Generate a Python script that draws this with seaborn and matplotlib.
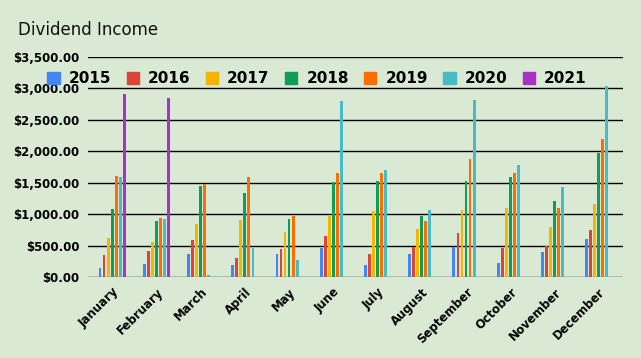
import pandas as pd
import seaborn as sns
import matplotlib.pyplot as plt
from matplotlib.ticker import FuncFormatter

# Monthly dividend income per year
months = ['January', 'February', 'March', 'April', 'May', 'June',
          'July', 'August', 'September', 'October', 'November', 'December']
years = ['2015', '2016', '2017', '2018', '2019', '2020', '2021']

y2015 = [145, 213, 372, 191, 372, 467, 197, 372, 483, 229, 404, 610]
y2016 = [356, 414, 595, 308, 451, 658, 372, 483, 706, 467, 499, 754]
y2017 = [627, 552, 838, 913, 722, 976, 1056, 770, 1072, 1104, 802, 1168]
y2018 = [1088, 897, 1454, 1342, 929, 1517, 1533, 971, 1533, 1597, 1215, 1973]
y2019 = [1613, 945, 1486, 1586, 966, 1660, 1660, 886, 1883, 1660, 1104, 2202]
y2020 = [1586, 929, 38, 467, 265, 2806, 1708, 1072, 2822, 1788, 1438, 3045]
y2021 = [2917, 2854, 0, 0, 0, 0, 0, 0, 0, 0, 0, 0]

colors = ['#4285f4', '#db4437', '#f4b400', '#0f9d58', '#ff6d01', '#46bdc6', '#ab30c4']

series = [y2015, y2016, y2017, y2018, y2019, y2020, y2021]
rows = []
for yr, vals in zip(years, series):
    for m, v in zip(months, vals):
        rows.append({'Month': m, 'Year': yr, 'Income': v})
df = pd.DataFrame(rows)

bg = '#d9e9d3'
fig = plt.figure(figsize=(6.41, 3.58), dpi=100, facecolor=bg)
ax = fig.add_axes([0.137, 0.226, 0.835, 0.615])
ax.set_facecolor(bg)

sns.barplot(data=df, x='Month', y='Income', hue='Year', hue_order=years,
            palette=colors, width=0.64, gap=0.3, ax=ax, saturation=1,
            edgecolor='none', legend=False)

# gridlines
ax.set_ylim(0, 3500)
ax.set_yticks(range(0, 3501, 500))
for yv in range(0, 3501, 500):
    ax.axhline(yv, color='black', lw=1.0, zorder=0)
ax.yaxis.set_major_formatter(FuncFormatter(lambda v, p: f'${v:,.2f}'))
for s in ax.spines.values():
    s.set_visible(False)
ax.tick_params(length=0, pad=6)
ax.set_xlim(-0.55, 11.55)
plt.setp(ax.get_yticklabels(), fontweight='bold', fontsize=8.5)
plt.setp(ax.get_xticklabels(), fontweight='bold', fontsize=8.5,
         rotation=45, ha='right', rotation_mode='anchor')
ax.set_xlabel('')
ax.set_ylabel('')

# legend
handles = [plt.Rectangle((0, 0), 1, 1, color=c) for c in colors]
fig.legend(handles, years, loc='center left', bbox_to_anchor=(0.062, 0.78),
           ncol=7, frameon=False, handlelength=0.8, handleheight=0.8,
           handletextpad=0.6, columnspacing=1.0, borderpad=0,
           prop={'weight': 'bold', 'size': 11})

fig.text(0.028, 0.915, 'Dividend Income', fontsize=12, color='#111111', va='center')

fig.savefig('out.png', dpi=100, facecolor=bg)
